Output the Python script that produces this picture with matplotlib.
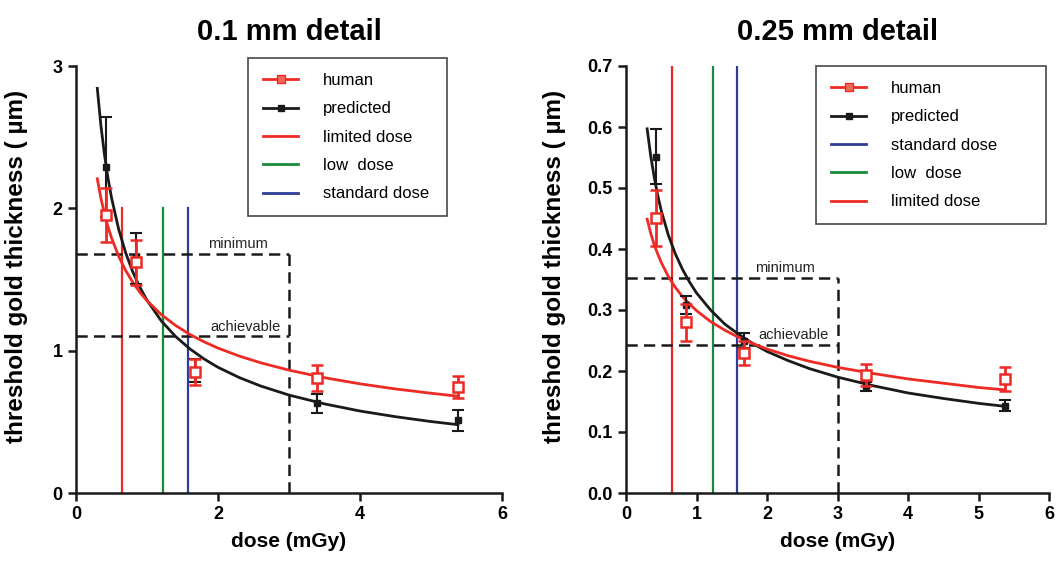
import matplotlib
matplotlib.use("Agg")
import matplotlib.pyplot as plt
from matplotlib.lines import Line2D

plt.rcParams['font.family'] = ['Liberation Sans', 'DejaVu Sans']

# ---------------- data: 0.1 mm detail ----------------
dose_pts = [0.42, 0.85, 1.68, 3.40, 5.38]
L_human = [1.95, 1.62, 0.85, 0.81, 0.745]
L_human_err = [0.19, 0.16, 0.09, 0.09, 0.075]
L_pred = [2.29, 1.65, 0.86, 0.63, 0.51]
L_pred_err = [0.35, 0.18, 0.08, 0.065, 0.075]

curve_x = [0.3, 0.35, 0.4, 0.45, 0.5, 0.6, 0.7, 0.8, 0.9, 1.0, 1.2, 1.4, 1.6, 1.8,
           2.0, 2.3, 2.6, 3.0, 3.5, 4.0, 4.5, 5.0, 5.38]
L_pred_curve = [2.843, 2.585, 2.381, 2.214, 2.075, 1.855, 1.687, 1.553, 1.445, 1.354,
                1.210, 1.101, 1.014, 0.943, 0.883, 0.811, 0.752, 0.688, 0.626, 0.576,
                0.536, 0.502, 0.480]
L_human_curve = [2.208, 2.074, 1.964, 1.871, 1.793, 1.664, 1.563, 1.480, 1.410, 1.351,
                 1.254, 1.178, 1.115, 1.063, 1.018, 0.962, 0.915, 0.863, 0.810, 0.767,
                 0.731, 0.701, 0.680]

L_minimum = 1.68
L_achievable = 1.10

# ---------------- data: 0.25 mm detail ----------------
R_human = [0.451, 0.280, 0.230, 0.193, 0.187]
R_human_err = [0.046, 0.030, 0.020, 0.018, 0.019]
R_pred = [0.551, 0.308, 0.250, 0.175, 0.143]
R_pred_err = [0.045, 0.015, 0.012, 0.007, 0.009]

R_pred_curve = [0.597, 0.553, 0.518, 0.488, 0.463, 0.423, 0.392, 0.367, 0.346, 0.328,
                0.300, 0.277, 0.260, 0.245, 0.232, 0.217, 0.204, 0.190, 0.176, 0.164,
                0.155, 0.147, 0.142]
R_human_curve = [0.449, 0.426, 0.407, 0.392, 0.378, 0.355, 0.337, 0.322, 0.310, 0.299,
                 0.281, 0.267, 0.255, 0.245, 0.236, 0.225, 0.216, 0.206, 0.196, 0.187,
                 0.180, 0.173, 0.169]

R_minimum = 0.352
R_achievable = 0.243

# dose levels (mGy)
limited_dose = 0.65
low_dose = 1.23
standard_dose = 1.58
dose_limit = 3.0

RED = '#ee2a24'
GREEN = '#1a8a3a'
BLUE = '#2e3d97'
BLACK = '#1a1a1a'

fig = plt.figure(figsize=(10.62, 5.70), dpi=100)
axL = fig.add_axes([76 / 1062, 77 / 570, 426 / 1062, 427 / 570])
axR = fig.add_axes([626 / 1062, 77 / 570, 423 / 1062, 427 / 570])


def draw(ax, human, herr, pred, perr, hcurve, pcurve, minimum, achievable, vtop,
         ylim, xticks, yticks, yticklabels, title, legend_order, legend_box, txt_off, txt_x,
         ylab_x):
    # dose lines
    ax.plot([limited_dose, limited_dose], [0, vtop], color=RED, lw=1.6, zorder=2)
    ax.plot([low_dose, low_dose], [0, vtop], color=GREEN, lw=1.6, zorder=2)
    ax.plot([standard_dose, standard_dose], [0, vtop], color=BLUE, lw=1.6, zorder=2)
    # dashed criteria lines
    dkw = dict(color=BLACK, lw=1.8, ls=(0, (4.5, 2.5)), zorder=3)
    ax.plot([0, dose_limit], [minimum, minimum], **dkw)
    ax.plot([0, dose_limit], [achievable, achievable], **dkw)
    ax.plot([dose_limit, dose_limit], [0, minimum], **dkw)
    ax.text(txt_x[0], minimum + txt_off, 'minimum', fontsize=10.5, ha='center', va='bottom', color='#222222')
    ax.text(txt_x[1], achievable + txt_off, 'achievable', fontsize=10.5, ha='center', va='bottom', color='#222222')
    # fitted curves
    ax.plot(curve_x, pcurve, color=BLACK, lw=2.0, zorder=4, solid_joinstyle='round')
    ax.plot(curve_x, hcurve, color=RED, lw=2.0, zorder=5, solid_joinstyle='round')
    # points with error bars
    ax.errorbar(dose_pts, pred, yerr=perr, fmt='s', color=BLACK, ms=5, mfc=BLACK, mec=BLACK,
                elinewidth=1.5, capsize=4, capthick=1.5, zorder=6)
    ax.errorbar(dose_pts, human, yerr=herr, fmt='s', color=RED, ms=6.5, mfc='white', mec=RED, mew=1.8,
                elinewidth=2.0, capsize=4, capthick=2.0, zorder=7)

    ax.set_xlim(0, 6)
    ax.set_ylim(*ylim)
    ax.set_xticks(xticks)
    ax.set_yticks(yticks)
    ax.set_yticklabels(yticklabels)
    for s in ['top', 'right']:
        ax.spines[s].set_visible(False)
    for s in ['left', 'bottom']:
        ax.spines[s].set_linewidth(1.8)
        ax.spines[s].set_color(BLACK)
    ax.tick_params(direction='out', width=1.8, length=6, labelsize=13, color=BLACK)
    for lab in ax.get_xticklabels() + ax.get_yticklabels():
        lab.set_fontweight('bold')
    ax.set_xlabel('dose (mGy)', fontsize=15, fontweight='bold', labelpad=6)
    ax.set_ylabel('threshold gold thickness ( \u00b5m)', fontsize=17.5, fontweight='bold')
    ax.yaxis.set_label_coords(ylab_x, 0.53)
    ax.set_title(title, fontsize=21, fontweight='bold', pad=19)

    handles = {
        'human': Line2D([], [], color=RED, lw=2, marker='s', ms=6, mfc='#f06a5a', mec=RED),
        'predicted': Line2D([], [], color=BLACK, lw=2, marker='s', ms=5, mfc=BLACK, mec=BLACK),
        'limited dose': Line2D([], [], color=RED, lw=2),
        'low  dose': Line2D([], [], color=GREEN, lw=2),
        'standard dose': Line2D([], [], color=BLUE, lw=2),
    }
    leg = ax.legend([handles[k] for k in legend_order], legend_order, loc='upper left',
                    bbox_to_anchor=legend_box, mode='expand', frameon=True, fancybox=False,
                    fontsize=12, handlelength=2.1, handletextpad=1.5, borderpad=0.9,
                    labelspacing=0.8, borderaxespad=0)
    leg.get_frame().set_edgecolor(BLACK)
    leg.get_frame().set_linewidth(1.2)


draw(axL, L_human, L_human_err, L_pred, L_pred_err, L_human_curve, L_pred_curve,
     L_minimum, L_achievable, 2.0, (0, 3), [0, 2, 4, 6], [0, 1, 2, 3], ['0', '1', '2', '3'],
     '0.1 mm detail', ['human', 'predicted', 'limited dose', 'low  dose', 'standard dose'],
     ((248 - 76) / 426, (493 - 58) / 427, 199 / 426, 0.0), 0.02, (2.28, 2.39),
     -(76 - 28) / 426)

draw(axR, R_human, R_human_err, R_pred, R_pred_err, R_human_curve, R_pred_curve,
     R_minimum, R_achievable, 0.7, (0, 0.7), [0, 1, 2, 3, 4, 5, 6],
     [0.0, 0.1, 0.2, 0.3, 0.4, 0.5, 0.6, 0.7],
     ['0.0', '0.1', '0.2', '0.3', '0.4', '0.5', '0.6', '0.7'],
     '0.25 mm detail', ['human', 'predicted', 'standard dose', 'low  dose', 'limited dose'],
     ((816 - 626) / 423, 1.0, 230 / 423, 0.0), 0.005, (2.26, 2.37),
     -(626 - 566) / 423)

fig.savefig('out.png', dpi=100)
